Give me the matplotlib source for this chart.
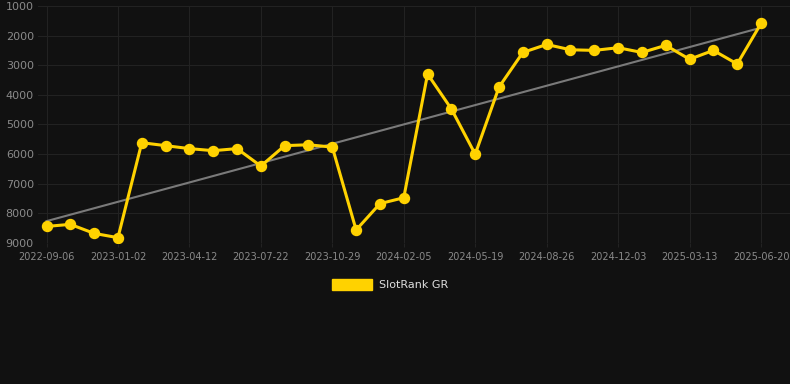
import matplotlib
matplotlib.use("Agg")
import matplotlib.pyplot as plt
from matplotlib.patches import Patch
import numpy as np

# ---- data ----
tick_labels = ["2022-09-06", "2023-01-02", "2023-04-12", "2023-07-22",
               "2023-10-29", "2024-02-05", "2024-05-19", "2024-08-26",
               "2024-12-03", "2025-03-13", "2025-06-20"]
rank = [8450, 8380, 8685, 8830, 5620, 5720, 5820, 5890, 5820, 6410,
        5720, 5690, 5770, 8570, 7680, 7480, 3300, 4480, 6010, 3740,
        2570, 2300, 2480, 2500, 2410, 2570, 2330, 2800, 2500, 2960, 1590]
series_name = "SlotRank GR"
y_ticks = [1000, 2000, 3000, 4000, 5000, 6000, 7000, 8000, 9000]

# ---- style ----
bg = "#111111"
gold = "#FFD200"
grid_c = "#222222"
tick_c = "#8a8a8a"

fig = plt.figure(figsize=(7.9, 3.84), dpi=100, facecolor=bg)
ax = fig.add_axes([38 / 790, 1 - 242.7 / 384, 1 - 38 / 790, (242.7 - 6) / 384])
ax.set_facecolor(bg)

x = np.arange(len(rank))
y = np.array(rank, dtype=float)

# trend line (least squares)
k, b = np.polyfit(x, y, 1)
ax.plot([x[0], x[-1]], [k * x[0] + b, k * x[-1] + b], color="#7a7a7a", lw=1.5, zorder=2)

ax.plot(x, y, color=gold, lw=2.2, marker="o", markersize=7.2,
        markerfacecolor=gold, markeredgecolor=gold, zorder=3)

ax.set_ylim(9000, 1000)
ax.set_xlim(-0.357, len(rank) - 1 + 29 / 23.83)
ax.set_yticks(y_ticks)
ax.set_yticklabels([str(t) for t in y_ticks])
tick_pos = x[::3]
ax.set_xticks(tick_pos)
ax.set_xticklabels(tick_labels)

ax.grid(True, color=grid_c, lw=0.8)
ax.set_axisbelow(True)
for s in ax.spines.values():
    s.set_visible(False)
ax.tick_params(axis="y", length=0, pad=3, labelsize=8, labelcolor=tick_c)
ax.tick_params(axis="x", length=3, color=grid_c, pad=4, labelsize=7, labelcolor=tick_c)

fig.legend(handles=[Patch(facecolor=gold, edgecolor=gold, label=series_name)],
           loc="center", bbox_to_anchor=(0.494, 0.258), frameon=False,
           fontsize=8, labelcolor="#dddddd", handlelength=3.6, handleheight=1.1,
           handletextpad=0.6)

fig.savefig("out.png", dpi=100, facecolor=bg)
